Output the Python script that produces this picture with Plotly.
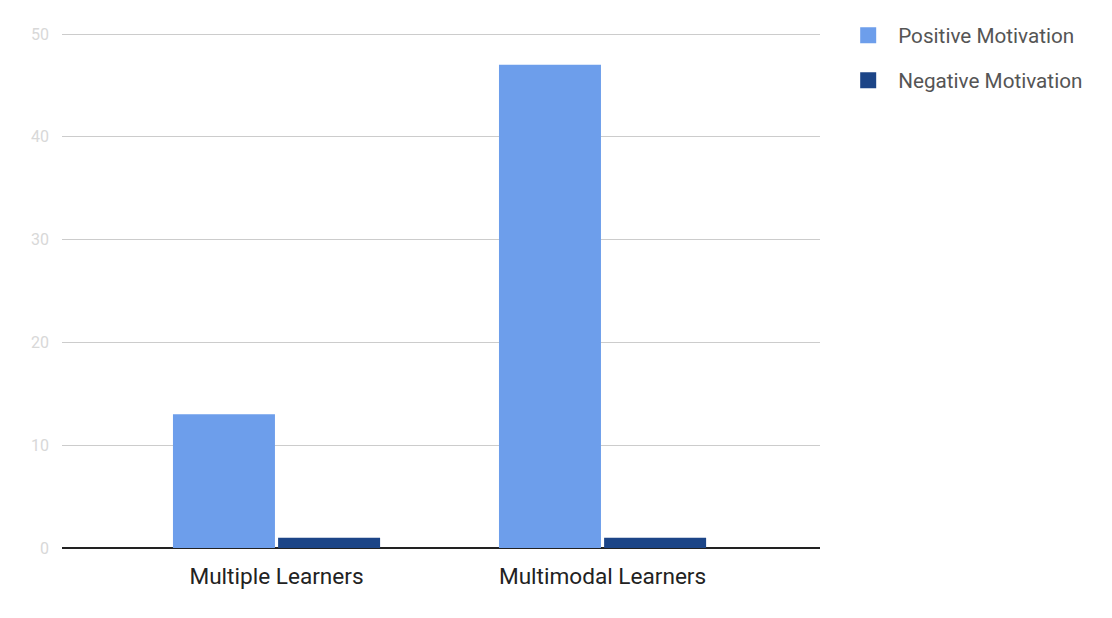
import plotly.graph_objects as go

categories = ["Multiple Learners", "Multimodal Learners"]
positive = [13, 47]
negative = [1, 1]
series_names = ["Positive Motivation", "Negative Motivation"]
colors = ["#6d9eeb", "#1c4587"]
y_ticks = [0, 10, 20, 30, 40, 50]

fig = go.Figure()
for name, vals, col in zip(series_names, [positive, negative], colors):
    fig.add_trace(go.Bar(x=categories, y=vals, name=name, marker_color=col,
                         marker_line_width=0, showlegend=False))
for i, (name, col) in enumerate(zip(series_names, colors)):
    fig.add_trace(go.Scatter(x=[None], y=[None], mode="markers", name=name,
                             legendgroup=f"g{i}",
                             marker=dict(symbol="square", size=18, color=col)))

fig.update_layout(
    width=1112, height=618,
    paper_bgcolor="white", plot_bgcolor="white",
    margin=dict(l=54, r=300, t=25, b=78, autoexpand=False),
    font=dict(family="Roboto", color="#222222"),
    barmode="group", bargap=0.355, bargroupgap=0.03,
    legend=dict(x=1.024, y=0.988, xanchor="left", yanchor="top", yref="container",
                font=dict(size=20.7, color="#555555"),
                tracegroupgap=15, itemsizing="trace", itemwidth=50),
)
fig.update_xaxes(type="category", range=[-0.658, 1.667], showgrid=False,
                 tickfont=dict(size=22.6, color="#222222"), ticks="", showline=False,
                 ticklabelstandoff=12)
fig.update_yaxes(range=[0, 50.1], tickvals=y_ticks, gridcolor="#cccccc",
                 tickfont=dict(size=16, color="#d8d8d8"), zeroline=True,
                 zerolinecolor="#222222", zerolinewidth=2, ticklabelstandoff=12)

fig.write_html("out.html")
